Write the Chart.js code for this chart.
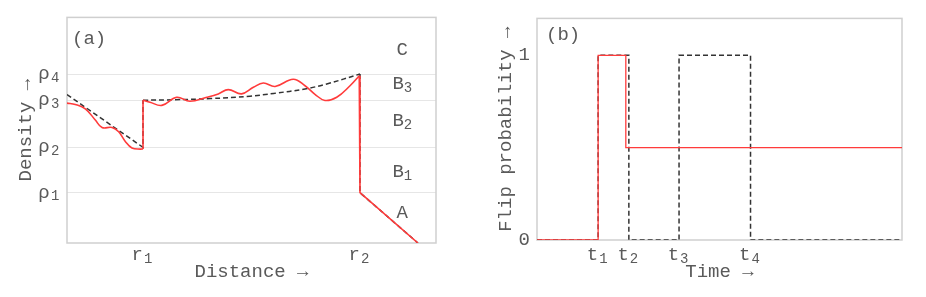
<!DOCTYPE html>
<html>
<head>
<meta charset="utf-8">
<script src="https://cdn.jsdelivr.net/npm/chart.js@4.4.1/dist/chart.umd.min.js"></script>
<style>
  html, body { margin: 0; padding: 0; background: #fff; }
  #wrap { position: relative; width: 926px; height: 297px; }
  canvas { position: absolute; top: 0; }
  #chartA { left: 0; }
  #chartB { left: 463px; }
</style>
</head>
<body>
<div id="wrap">
  <canvas id="chartA" width="463" height="297"></canvas>
  <canvas id="chartB" width="463" height="297"></canvas>
</div>
<script>
// ---- panel (a): density vs distance ----
const rhoLevels = [22.3, 42.4, 63.3, 74.9];
const rhoSubs = ['1', '2', '3', '4'];
const rPos = [20.6, 79.4];
const rSubs = ['1', '2'];

// red (measured) profile: before r1, jump at r1, between r1 and r2
const redLeftX = [0, 2.25, 4.96, 7.67, 9.49, 12.2, 14.0, 15.8, 17.6, 19.9, 20.6];
const redLeftY = [62.0, 61.4, 59.5, 54.5, 51.2, 51.2, 49.3, 45.0, 42.1, 41.6, 41.7];
const redJumpX = [20.6, 20.6];
const redJumpY = [41.7, 63.3];
const redRightX = [20.6, 22.5, 25.7, 29.7, 33.3, 37.9, 41.0, 43.7, 47.3, 50.5, 53.2,
                   56.4, 61.3, 64.5, 67.2, 69.9, 73.1, 76.7, 79.2];
const redRightY = [63.3, 62.4, 61.0, 64.6, 62.8, 64.6, 66.1, 68.0, 66.1, 69.0, 70.9,
                   69.4, 72.6, 69.7, 65.9, 63.2, 64.6, 69.7, 74.1];
// red drop at r2 and the A ramp
const redTailX = [79.2, 79.4, 79.4, 95.1];
const redTailY = [74.1, 74.1, 22.3, 0];

// black dashed (ideal) profile
const guideDownX = [0, 20.6, 20.6];
const guideDownY = [65.8, 42.4, 63.3];
const guideUpX = [20.6, 29.3, 38.8, 49.6, 56.0, 64.5, 70.4, 79.4];
const guideUpY = [63.3, 63.5, 64.0, 65.1, 66.3, 68.3, 70.5, 74.9];
const guideTailX = [79.4, 79.4, 95.1];
const guideTailY = [74.9, 22.3, 0];

const regionLabels = [['A', ''], ['B', '1'], ['B', '2'], ['B', '3'], ['C', '']];
const regionY = [13.3, 31.4, 54.1, 70.3, 85.6];

// ---- panel (b): flip probability vs time ----
const tPos = [2.01, 3.02, 4.67, 7.02];
const tSubs = ['1', '2', '3', '4'];
const probTicks = [0, 1];
const redStepX = [0, 2.01, 2.92, 12];
const redStepY = [0, 1, 0.5, 0.5];
const blackStepX = [0, 2.01, 3.02, 4.67, 7.02, 12];
const blackStepY = [0, 1, 0, 1, 0, 0];

const FONT = "'Liberation Mono', 'DejaVu Sans Mono', monospace";
const TEXT = '#5a5a5a';
const RED = '#ff3b3b';
const DASH = '#333333';
const font = size => ({ family: FONT, size: size });

const ptsOf = (xs, ys) => xs.map((x, i) => ({ x: x, y: ys[i] }));

// gray box round the plot area
const framePlugin = {
    id: 'frame',
    beforeDatasetsDraw(chart) {
        const { ctx, chartArea: a } = chart;
        ctx.save();
        ctx.strokeStyle = '#cfcfcf';
        ctx.lineWidth = 1.5;
        ctx.strokeRect(a.left, a.top, a.right - a.left, a.bottom - a.top);
        ctx.restore();
    }
};

function drawSub(ctx, base, sub, x, y) {
    ctx.font = `19px ${FONT}`;
    ctx.textAlign = 'left';
    ctx.textBaseline = 'middle';
    ctx.fillText(base, x, y);
    if (sub) {
        const w = ctx.measureText(base).width;
        ctx.font = `14px ${FONT}`;
        ctx.fillText(sub, x + w, y + 4);
    }
}

// subscripts next to the tick letters (ticks draw "r ", "ρ ", "t ")
function subTicks(xVals, xSubs, yVals, ySubs, xPad, yPad) {
    return {
        id: 'subTicks',
        afterDraw(chart) {
            const ctx = chart.ctx;
            const xs = chart.scales.x, ys = chart.scales.y;
            ctx.save();
            ctx.fillStyle = TEXT;
            ctx.font = `14px ${FONT}`;
            ctx.textAlign = 'left';
            ctx.textBaseline = 'middle';
            xVals.forEach((v, i) => {
                ctx.fillText(xSubs[i], xs.getPixelForValue(v) + 1, xs.top + xPad + 11.4 + 4);
            });
            yVals.forEach((v, i) => {
                ctx.fillText(ySubs[i], chart.chartArea.left - yPad - 10, ys.getPixelForValue(v) + 4);
            });
            ctx.restore();
        }
    };
}

const notesA = {
    id: 'notesA',
    afterDraw(chart) {
        const ctx = chart.ctx;
        const xs = chart.scales.x, ys = chart.scales.y;
        ctx.save();
        ctx.fillStyle = TEXT;
        drawSub(ctx, '(a)', '', 72, 39);
        regionLabels.forEach((l, i) => {
            const px = xs.getPixelForValue(l[1] ? 88.2 : 89.3);
            drawSub(ctx, l[0], l[1], px, ys.getPixelForValue(regionY[i]));
        });
        ctx.restore();
    }
};

const notesB = {
    id: 'notesB',
    afterDraw(chart) {
        const ctx = chart.ctx;
        ctx.save();
        ctx.fillStyle = TEXT;
        drawSub(ctx, '(b)', '', 83, 35);
        ctx.restore();
    }
};

function lineSet(data, color, width, dashed, tension) {
    return {
        data: data,
        borderColor: color,
        borderWidth: width,
        borderDash: dashed ? [5, 3] : [],
        pointRadius: 0,
        fill: false,
        tension: tension || 0
    };
}

new Chart(document.getElementById('chartA'), {
    type: 'line',
    data: {
        datasets: [
            lineSet(ptsOf(redLeftX, redLeftY), RED, 1.6, false, 0.4),
            lineSet(ptsOf(redJumpX, redJumpY), RED, 1.6, false),
            lineSet(ptsOf(redRightX, redRightY), RED, 1.6, false, 0.4),
            lineSet(ptsOf(redTailX, redTailY), RED, 1.6, false),
            lineSet(ptsOf(guideDownX, guideDownY), DASH, 1.5, true),
            lineSet(ptsOf(guideUpX, guideUpY), DASH, 1.5, true, 0.4),
            lineSet(ptsOf(guideTailX, guideTailY), DASH, 1.5, true)
        ]
    },
    options: {
        responsive: false,
        animation: false,
        devicePixelRatio: 1,
        layout: { padding: { top: 14, right: 27, left: 0, bottom: 0 } },
        plugins: { legend: { display: false }, tooltip: { enabled: false } },
        scales: {
            x: {
                type: 'linear', min: 0, max: 100,
                afterBuildTicks: s => { s.ticks = rPos.map(v => ({ value: v })); },
                afterFit: s => { s.height = 54; },
                ticks: { callback: () => 'r ', padding: 1, color: TEXT, font: font(19), maxRotation: 0, autoSkip: false },
                grid: { display: false, drawTicks: false },
                border: { display: false },
                title: { display: true, text: 'Distance →', color: TEXT, font: font(19), padding: { top: 0, bottom: 14 } }
            },
            y: {
                min: 0, max: 100,
                afterBuildTicks: s => { s.ticks = rhoLevels.map(v => ({ value: v })); },
                afterFit: s => { s.width = 67; },
                ticks: { callback: () => 'ρ ', padding: 6, color: TEXT, font: font(19), autoSkip: false },
                grid: { color: '#e6e6e6', lineWidth: 1, drawTicks: false },
                border: { display: false },
                title: { display: true, text: 'Density →', color: TEXT, font: font(19), padding: { top: 14.5, bottom: 0 } }
            }
        }
    },
    plugins: [framePlugin, notesA, subTicks(rPos, rSubs, rhoLevels, rhoSubs, 1, 6)]
});

new Chart(document.getElementById('chartB'), {
    type: 'line',
    data: {
        datasets: [
            Object.assign(lineSet(ptsOf(redStepX, redStepY), RED, 1.3, false), { stepped: 'before' }),
            Object.assign(lineSet(ptsOf(blackStepX, blackStepY), DASH, 1.5, true), { stepped: 'before' })
        ]
    },
    options: {
        responsive: false,
        animation: false,
        devicePixelRatio: 1,
        layout: { padding: { top: 15, right: 24, left: 0, bottom: 0 } },
        plugins: { legend: { display: false }, tooltip: { enabled: false } },
        scales: {
            x: {
                type: 'linear', min: 0, max: 12,
                afterBuildTicks: s => { s.ticks = tPos.map(v => ({ value: v })); },
                afterFit: s => { s.height = 57; },
                ticks: { callback: () => 't ', padding: 4, color: TEXT, font: font(19), maxRotation: 0, autoSkip: false },
                grid: { display: false, drawTicks: false },
                border: { display: false },
                title: { display: true, text: 'Time →', color: TEXT, font: font(19), padding: { top: 0, bottom: 14 } }
            },
            y: {
                min: 0, max: 1.2,
                afterBuildTicks: s => { s.ticks = probTicks.map(v => ({ value: v })); },
                afterFit: s => { s.width = 74; },
                ticks: { callback: v => String(v), padding: 7, color: TEXT, font: font(19), autoSkip: false },
                grid: { display: false, drawTicks: false },
                border: { display: false },
                title: { display: true, text: 'Flip probability →', color: TEXT, font: font(19), padding: { top: 32, bottom: 0 } }
            }
        }
    },
    plugins: [framePlugin, notesB, subTicks(tPos, tSubs, [], [], 4, 7)]
});
</script>
</body>
</html>
